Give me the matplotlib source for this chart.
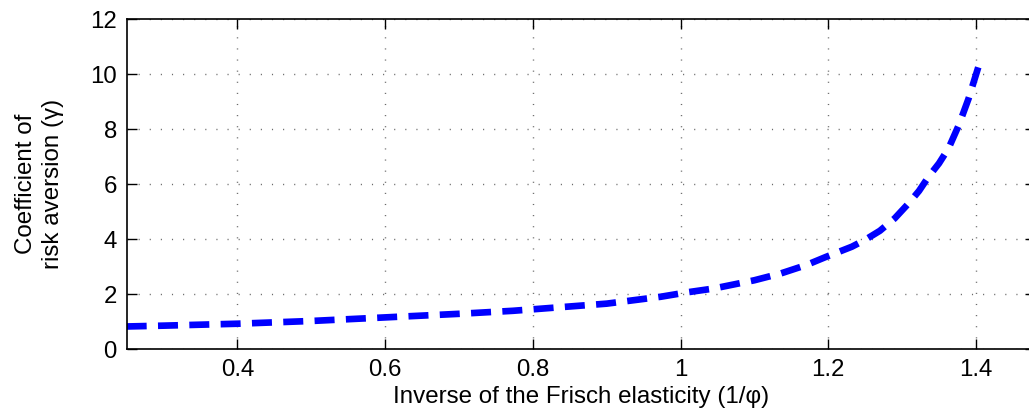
import numpy as np
import matplotlib
matplotlib.use('Agg')
import matplotlib.pyplot as plt

# values
inv_frisch = [0.25, 0.30, 0.40, 0.50, 0.60, 0.70, 0.773, 0.8125, 0.90, 0.973, 1.011,
              1.045, 1.10, 1.136, 1.17, 1.197, 1.232, 1.25, 1.27, 1.29, 1.309,
              1.323, 1.336, 1.35, 1.363, 1.377, 1.39, 1.405]
risk_aversion = [0.82, 0.85, 0.92, 1.02, 1.15, 1.28, 1.39, 1.47, 1.65, 1.9, 2.07,
                 2.2, 2.5, 2.75, 3.05, 3.35, 3.72, 3.97, 4.3, 4.75, 5.3,
                 5.75, 6.27, 6.75, 7.3, 8.15, 9.1, 10.4]
xticks = [0.4, 0.6, 0.8, 1.0, 1.2, 1.4]
xticklabels = ['0.4', '0.6', '0.8', '1', '1.2', '1.4']
yticks = [0, 2, 4, 6, 8, 10, 12]

plt.rcParams['font.family'] = ['Liberation Sans', 'DejaVu Sans']

fig = plt.figure(figsize=(10.29, 4.19), dpi=100)
# right edge of the axes runs past the figure, as in the reference
ax = fig.add_axes([0.1231, 0.167, 0.8827, 0.7876])

ax.plot(inv_frisch, risk_aversion, color='#0000ff', linewidth=4.8,
        dashes=(3.0, 1.7), solid_capstyle='butt', dash_capstyle='butt')

ax.set_xlim(0.25, 1.48)
ax.set_ylim(0, 12)
ax.set_xticks(xticks)
ax.set_xticklabels(xticklabels)
ax.set_yticks(yticks)

ax.grid(True, color='#6a6a6a', linestyle=(0, (0.8, 7.2)), linewidth=1.0)
ax.tick_params(direction='in', length=7, width=1, labelsize=17.3, pad=7,
               top=True, right=True)
for s in ax.spines.values():
    s.set_linewidth(1.2)

ax.set_xlabel('Inverse of the Frisch elasticity (1/φ)', fontsize=17.4, labelpad=4)
ax.set_ylabel('Coefficient of\nrisk aversion (γ)', fontsize=17.4, labelpad=19,
              linespacing=1.3)

fig.savefig('out.png', dpi=100)
